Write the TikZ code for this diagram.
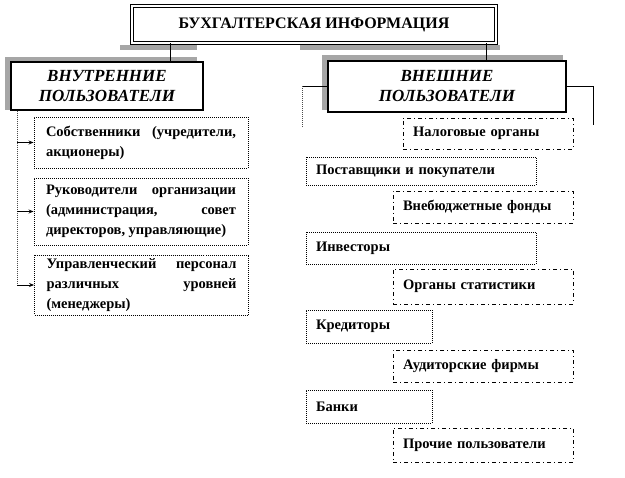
\documentclass[tikz,border=0pt]{standalone}
\usepackage{fontspec}
\setmainfont{Liberation Serif}
\usetikzlibrary{arrows.meta}
\begin{document}
\begin{tikzpicture}[x=1pt,y=-1pt,
  shadowc/.style={fill=black!35},
  titlebox/.style={draw, line width=1pt, double=white, double distance=2pt, fill=white, font=\fontsize{16}{18}\selectfont\bfseries},
  headbox/.style={draw, line width=1.2pt, fill=white, align=center, font=\fontsize{17}{20}\selectfont\bfseries\itshape},
  lbox/.style={draw, line width=0.9pt, dash pattern=on 1pt off 1pt, inner xsep=12pt, text width=190pt, align=justify, font=\fontsize{14.5}{20}\selectfont\bfseries},
  dbox/.style={draw, line width=0.9pt, dash pattern=on 1pt off 1pt, inner xsep=10pt, align=left, font=\fontsize{14.5}{16}\selectfont\bfseries},
  ddbox/.style={draw, line width=0.9pt, dash pattern=on 4pt off 3pt on 1pt off 3pt, inner xsep=10pt, align=left, font=\fontsize{14.5}{16}\selectfont\bfseries},
  conn/.style={line width=0.8pt},
  gconn/.style={line width=0.9pt, black!70, dash pattern=on 1pt off 1pt},
  arr/.style={line width=0.8pt, -{Stealth[length=5pt,width=4pt]}}
]
\useasboundingbox (0,0) rectangle (625,478);
% title shadow
\fill[shadowc] (120,45) rectangle (197,50);
\fill[shadowc] (300,45) rectangle (500,50);
\node[titlebox, minimum width=364pt, minimum height=37pt] (title) at (314,24.5) {БУХГАЛТЕРСКАЯ ИНФОРМАЦИЯ};
% header shadows
\fill[shadowc] (5,57) rectangle (197,110);
\fill[shadowc] (322,55) rectangle (563,110);
\node[headbox, minimum width=192pt, minimum height=48pt] (lh) at (107,86) {ВНУТРЕННИЕ\\ПОЛЬЗОВАТЕЛИ};
\node[headbox, minimum width=238pt, minimum height=51pt] (rh) at (447,86.5) {ВНЕШНИЕ\\ПОЛЬЗОВАТЕЛИ};
\coordinate (lx) at (170,0);
\coordinate (rx) at (486,0);
\draw[conn] (title.south -| lx) -- (lh.north -| lx);
\draw[conn] (title.south -| rx) -- (rh.north -| rx);
% left boxes
\node[lbox, minimum height=51pt] (b1) at (141,142.5) {Собственники (учредители, акционеры)};
\node[lbox, minimum height=67pt] (b2) at (141,211.5) {Руководители организации (администрация, совет директоров, управляющие)};
\node[lbox, minimum height=60pt] (b3) at (141.5,285) {Управленческий персонал различных уровней (менеджеры)};
\coordinate (lv) at (17,0);
\draw[gconn] (lh.south -| lv) -- (b3.west -| lv);
\draw[arr] (b1.west -| lv) -- (b1.west);
\draw[arr] (b2.west -| lv) -- (b2.west);
\draw[arr] (b3.west -| lv) -- (b3.west);
% right connectors
\coordinate (rl) at (302,127);
\coordinate (rr) at (593,125);
\draw[conn] (rh.west) -- (rh.west -| rl);
\draw[gconn] (rh.west -| rl) -- (rl);
\draw[conn] (rh.east) -| (rr);
% right boxes
\node[ddbox, minimum width=170pt, minimum height=31pt, text width=150pt] (r1) at (488,133.5) {Налоговые органы};
\node[dbox, minimum width=230pt, minimum height=28pt, text width=210pt] (r2) at (421,171) {Поставщики и покупатели};
\node[ddbox, minimum width=180pt, minimum height=32pt, text width=160pt] (r3) at (483,207) {Внебюджетные фонды};
\node[dbox, minimum width=230pt, minimum height=32pt, text width=210pt] (r4) at (421,248) {Инвесторы};
\node[ddbox, minimum width=180pt, minimum height=35pt, text width=160pt] (r5) at (483,286.5) {Органы статистики};
\node[dbox, minimum width=126pt, minimum height=33pt, text width=106pt] (r6) at (369,326.5) {Кредиторы};
\node[ddbox, minimum width=180pt, minimum height=32pt, text width=160pt] (r7) at (483,366) {Аудиторские фирмы};
\node[dbox, minimum width=126pt, minimum height=33pt, text width=106pt] (r8) at (369,406.5) {Банки};
\node[ddbox, minimum width=180pt, minimum height=34pt, text width=160pt] (r9) at (483,445) {Прочие пользователи};
\end{tikzpicture}
\end{document}
